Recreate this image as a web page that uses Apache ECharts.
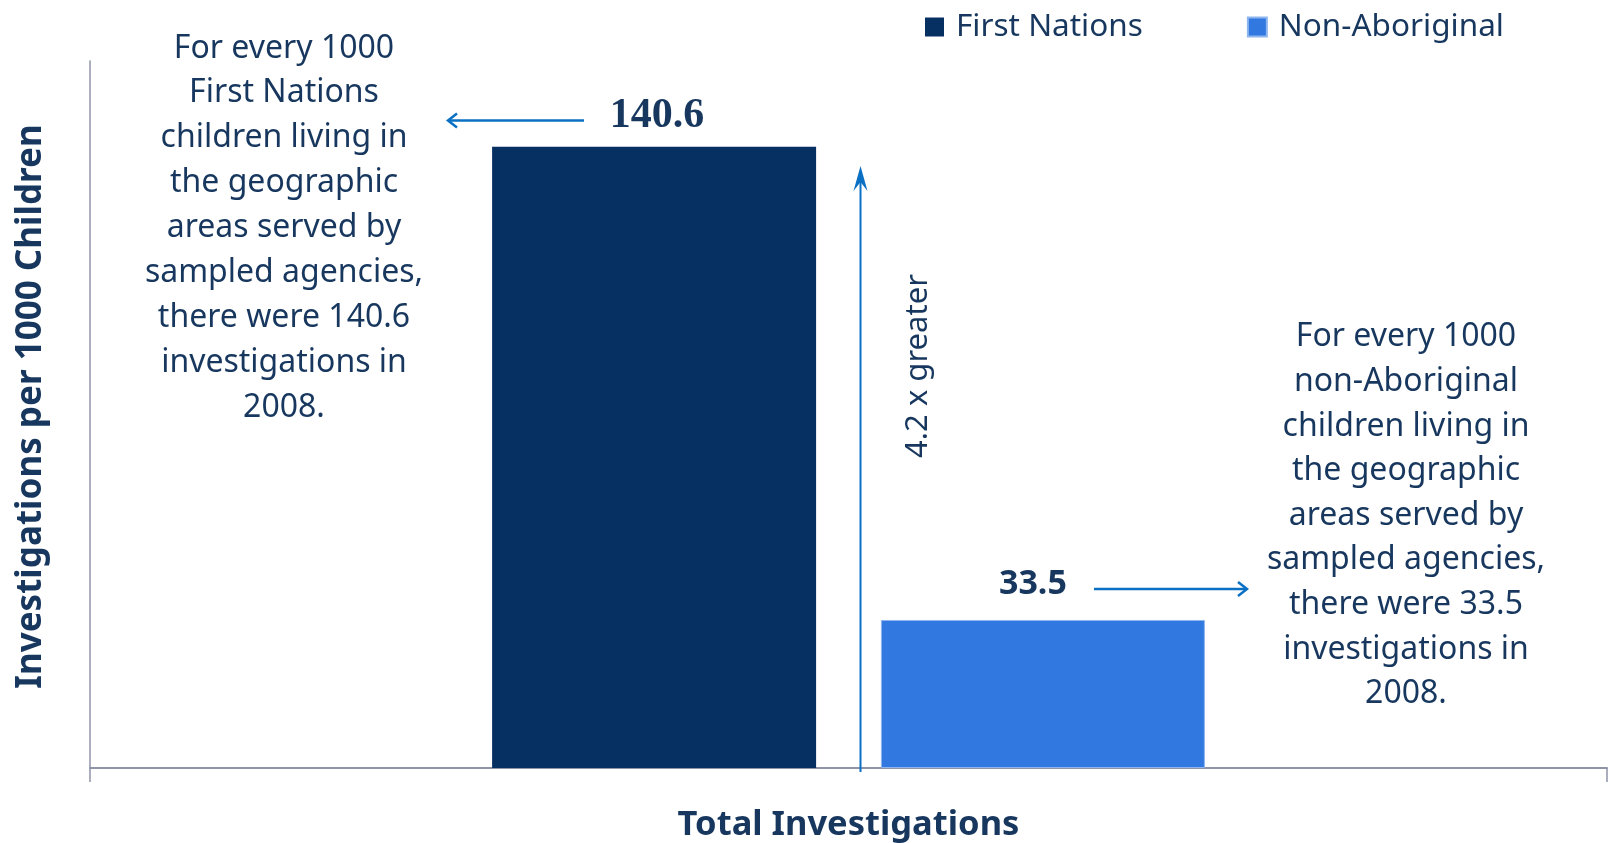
<!DOCTYPE html>
<html>
<head>
<meta charset="utf-8">
<script src="https://cdn.jsdelivr.net/npm/echarts@6/dist/echarts.min.js"></script>
<style>
  html, body { margin: 0; padding: 0; background: #ffffff; }
  #chart { width: 1612px; height: 843px; }
</style>
</head>
<body>
<div id="chart"></div>
<script>
// Rates of child maltreatment investigations, 2008
const categories = ['Total Investigations'];
const seriesNames = ['First Nations', 'Non-Aboriginal'];
const firstNationsValues = [140.6];
const nonAboriginalValues = [33.5];
const yAxisTitle = 'Investigations per 1000 Children';
const ratioNote = '4.2 x greater';
const firstNationsNote = [
  'For every 1000', 'First Nations', 'children living in', 'the geographic',
  'areas served by', 'sampled agencies,', 'there were 140.6', 'investigations in', '2008.'
];
const nonAboriginalNote = [
  'For every 1000', 'non-Aboriginal', 'children living in', 'the geographic',
  'areas served by', 'sampled agencies,', 'there were 33.5', 'investigations in', '2008.'
];

const NAVY_TEXT = '#17375e';
const ARROW = '#0a70c4';
const SANS = '"Noto Sans", "Open Sans", sans-serif';

const chart = echarts.init(document.getElementById('chart'));

function arrowHead(tipX, tipY, dir) {
  // open chevron arrow head; dir = 'left' | 'right'
  const s = dir === 'left' ? 1 : -1;
  return {
    type: 'polyline',
    shape: { points: [[tipX + s * 9, tipY - 7], [tipX, tipY], [tipX + s * 9, tipY + 7]] },
    style: { stroke: ARROW, lineWidth: 2.5, fill: null },
    z: 10
  };
}

const option = {
  animation: false,
  backgroundColor: '#ffffff',
  legend: {
    data: seriesNames,
    left: 925,
    top: 11,
    padding: 0,
    itemWidth: 19,
    itemHeight: 19,
    itemGap: 104,
    icon: 'rect',
    textStyle: { fontFamily: SANS, fontSize: 31.5, color: NAVY_TEXT, padding: [0, 0, 0, 7] }
  },
  grid: { left: 90, right: 5, top: 61, bottom: 75, containLabel: false },
  xAxis: {
    type: 'category',
    data: categories,
    axisLine: { lineStyle: { color: '#8f94a8', width: 2 } },
    axisTick: { show: true, length: 14, lineStyle: { color: '#8f94a8', width: 1.5 } },
    axisLabel: {
      margin: 40,
      fontFamily: SANS, fontSize: 34.5, fontWeight: 'bold', color: NAVY_TEXT
    }
  },
  yAxis: {
    type: 'value',
    min: 0,
    max: 160,
    name: yAxisTitle,
    nameLocation: 'middle',
    nameRotate: 90,
    nameGap: 41,
    nameTextStyle: {
      fontFamily: SANS, fontSize: 35, fontWeight: 'bold', color: NAVY_TEXT,
      padding: [0, 0, 0, 16]
    },
    axisLine: { show: true, lineStyle: { color: '#8f94a8', width: 1.5 } },
    axisTick: { show: false },
    axisLabel: { show: false },
    splitLine: { show: false }
  },
  series: [
    {
      name: seriesNames[0],
      type: 'bar',
      data: firstNationsValues,
      barWidth: 324,
      barGap: '20%',
      itemStyle: { color: '#062f62' },
      label: {
        show: true,
        position: 'top',
        distance: 10,
        offset: [3, 0],
        fontFamily: '"Liberation Serif", "Times New Roman", serif',
        fontWeight: 'bold',
        fontSize: 42,
        color: NAVY_TEXT
      }
    },
    {
      name: seriesNames[1],
      type: 'bar',
      data: nonAboriginalValues,
      barWidth: 324,
      itemStyle: { color: '#3179e0', borderColor: '#8fb6ee', borderWidth: 1 },
      label: {
        show: true,
        position: 'top',
        distance: 19,
        offset: [-10, 0],
        fontFamily: SANS,
        fontWeight: 'bold',
        fontSize: 34,
        color: NAVY_TEXT
      }
    }
  ],
  graphic: [
    // explanatory note for First Nations
    {
      type: 'text', x: 284, y: 26, z: 10,
      style: {
        text: firstNationsNote.join('\n'),
        align: 'center', verticalAlign: 'top',
        font: '32px ' + SANS, lineHeight: 44.9, fill: NAVY_TEXT
      }
    },
    // explanatory note for non-Aboriginal
    {
      type: 'text', x: 1406, y: 315, z: 10,
      style: {
        text: nonAboriginalNote.join('\n'),
        align: 'center', verticalAlign: 'top',
        font: '32px ' + SANS, lineHeight: 44.6, fill: NAVY_TEXT
      }
    },
    // ratio note along the vertical arrow
    {
      type: 'text', x: 918, y: 366, rotation: Math.PI / 2, z: 10,
      style: {
        text: ratioNote,
        align: 'center', verticalAlign: 'middle',
        font: '31px ' + SANS, fill: NAVY_TEXT
      }
    },
    // arrow from the 140.6 label toward the left note
    { type: 'line', shape: { x1: 584, y1: 120.5, x2: 449, y2: 120.5 }, style: { stroke: ARROW, lineWidth: 2.5 }, z: 10 },
    arrowHead(448, 120.5, 'left'),
    // arrow from the 33.5 label toward the right note
    { type: 'line', shape: { x1: 1094, y1: 589, x2: 1246, y2: 589 }, style: { stroke: ARROW, lineWidth: 2.5 }, z: 10 },
    arrowHead(1247, 589, 'right'),
    // vertical comparison arrow
    { type: 'line', shape: { x1: 860.5, y1: 772, x2: 860.5, y2: 178 }, style: { stroke: ARROW, lineWidth: 2 }, z: 10 },
    {
      type: 'polygon', z: 10,
      shape: { points: [[860.5, 166], [867.5, 191], [860.5, 182], [853.5, 191]] },
      style: { fill: ARROW }
    }
  ]
};

chart.setOption(option);
</script>
</body>
</html>
